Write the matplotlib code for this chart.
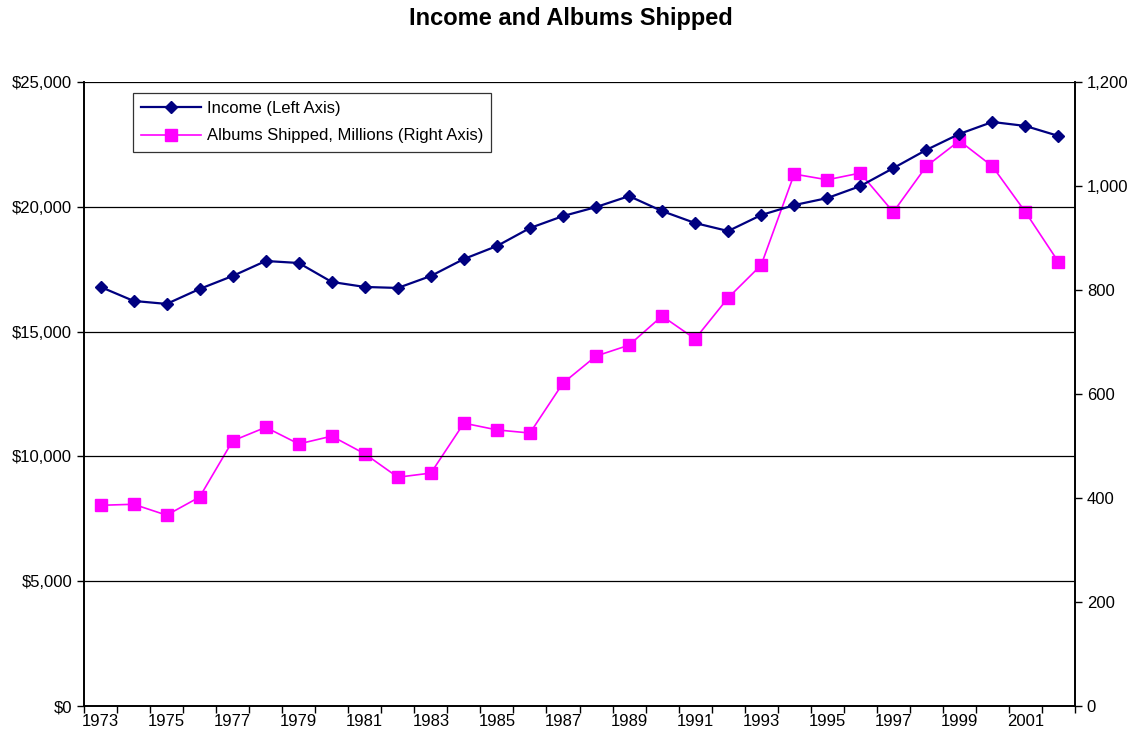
import numpy as np
import matplotlib.pyplot as plt
from matplotlib.ticker import FuncFormatter

plt.rcParams['font.family'] = ['Liberation Sans', 'DejaVu Sans']

# Data
years = list(range(1973, 2003))
income = [16790, 16230, 16110, 16710, 17230, 17830, 17750, 16990, 16790, 16750,
          17230, 17910, 18430, 19150, 19630, 19990, 20430, 19830, 19350, 19030,
          19670, 20070, 20350, 20830, 21550, 22280, 22920, 23400, 23240, 22840]
albums = [386, 388, 367, 402, 510, 536, 504, 519, 485, 440,
          448, 544, 531, 525, 621, 673, 694, 750, 706, 785,
          848, 1023, 1012, 1025, 950, 1038, 1087, 1038, 950, 854]
year_labels = [str(y) for y in years[::2]]

fig = plt.figure(figsize=(11.42, 7.41), dpi=100)
ax = fig.add_axes([0.0736, 0.0472, 0.8677, 0.8421])
ax2 = ax.twinx()

# gridlines
for v in [5000, 10000, 15000, 20000, 25000]:
    ax.axhline(v, color='black', lw=0.9, zorder=0)

l1, = ax.plot(years, income, color='#000080', lw=1.6, marker='D', markersize=6.5,
              label='Income (Left Axis)', zorder=3)
l2, = ax2.plot(years, albums, color='#FF00FF', lw=1.2, marker='s', markersize=8,
               label='Albums Shipped, Millions (Right Axis)', zorder=3)

ax.set_xlim(years[0] - 0.5, years[-1] + 0.5)
ax.set_ylim(0, 25000)
ax2.set_ylim(0, 1200)

ax.set_yticks(np.arange(0, 25001, 5000))
ax.yaxis.set_major_formatter(FuncFormatter(lambda v, p: f'${v:,.0f}'))
ax2.set_yticks(np.arange(0, 1201, 200))
ax2.yaxis.set_major_formatter(FuncFormatter(lambda v, p: f'{v:,.0f}'))

ax.set_xticks(years[::2])
ax.set_xticklabels(year_labels)
ax.set_xticks(np.arange(years[0] - 0.5, years[-1] + 1.0, 1.0), minor=True)
ax.tick_params(axis='x', which='major', length=0, pad=6, labelsize=12)
ax.tick_params(axis='x', which='minor', length=5, direction='out', width=1)
ax.tick_params(axis='y', length=5, direction='out', width=1, labelsize=12)
ax2.tick_params(axis='y', length=5, direction='out', width=1, labelsize=12)

for a in (ax, ax2):
    a.spines['top'].set_visible(False)
    for s in ('left', 'right', 'bottom'):
        a.spines[s].set_linewidth(1.2)
ax.set_zorder(ax2.get_zorder() + 1)
ax.patch.set_visible(False)

leg = ax.legend(handles=[l1, l2], loc='upper left', bbox_to_anchor=(0.049, 0.983),
                fontsize=12, frameon=True, fancybox=False, edgecolor='black',
                handlelength=3.6, handletextpad=0.35, borderpad=0.5,
                labelspacing=0.75, borderaxespad=0)
leg.get_frame().set_linewidth(0.9)

fig.suptitle('Income and Albums Shipped', fontsize=17, fontweight='bold', y=0.99)

fig.savefig('out.png', dpi=100)
